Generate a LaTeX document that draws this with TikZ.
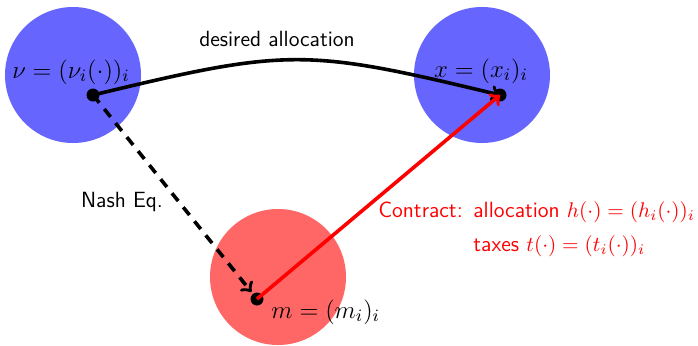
\RequirePackage{fix-cm}
\documentclass[tikz,border=0pt]{standalone}
\usetikzlibrary{arrows}
\begin{document}
\begin{tikzpicture}[x=0.5pt,y=-0.5pt,
  blob/.style={circle,minimum size=68pt,inner sep=0pt},
  blueblob/.style={blob,fill=blue!60},
  redblob/.style={blob,fill=red!60},
  dotnode/.style={circle,fill=black,minimum size=6.5pt,inner sep=0pt},
  biglabel/.style={font=\fontsize{12.4}{15}\selectfont,inner sep=0pt},
  txt/.style={font=\fontsize{11}{13}\sffamily,inner sep=0pt},
  conn/.style={line width=1.8pt,->}
]
\useasboundingbox (0,0) rectangle (698,345);
\node[blueblob] (cv) at (73,75) {};
\node[blueblob] (cx) at (482,75) {};
\node[redblob] (cm) at (278,277) {};
\node[biglabel,anchor=base] (lv) at (71,78) {$\nu=(\nu_i(\cdot))_i$};
\node[biglabel,anchor=base] (lx) at (481,77) {$x=(x_i)_i$};
\node[biglabel,anchor=base west] (lm) at (271,318) {$m=(m_i)_i$};
\node[dotnode] (v) at (93,95) {};
\node[dotnode] (x) at (500,95) {};
\node[dotnode] (m) at (257,299) {};
\coordinate (c1) at (288,48);
\coordinate (c2) at (305,48);
\draw[conn] (v.center) .. controls (c1) and (c2) .. (x.center);
\draw[conn,dashed,dash pattern=on 5pt off 4pt,shorten >=4.5pt] (v.center) -- (m.center);
\draw[conn,red] (m.center) -- (x.center);
\node[txt,anchor=base] (da) at (277,46) {desired allocation};
\node[txt,anchor=base] (ne) at (122,207) {Nash Eq.};
\node[txt,red,anchor=base west] (ct) at (378,217) {Contract:};
\node[txt,red,anchor=base west] (al) at (473,217) {allocation {\fontsize{10.6}{13}\selectfont$h(\cdot)=(h_i(\cdot))_i$}};
\node[txt,red,anchor=base west] (tx) at (473,251) {taxes {\fontsize{10.6}{13}\selectfont$t(\cdot)=(t_i(\cdot))_i$}};
\end{tikzpicture}
\end{document}
